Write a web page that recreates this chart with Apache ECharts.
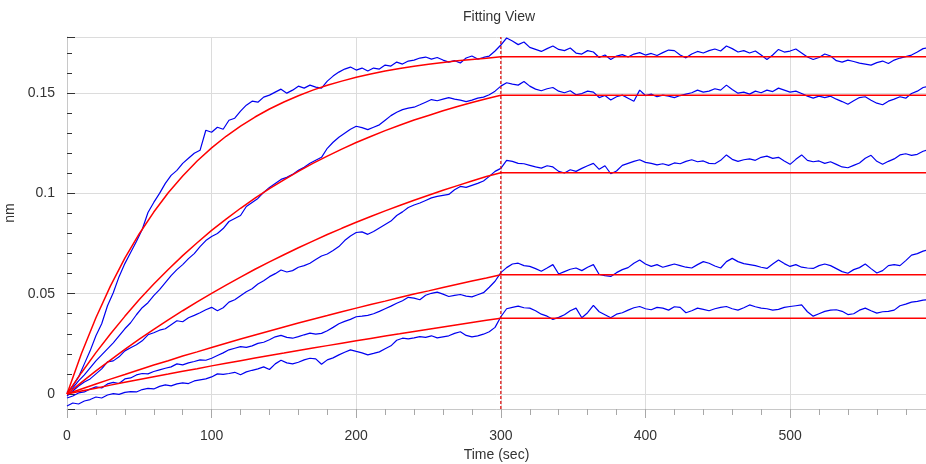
<!DOCTYPE html>
<html><head><meta charset="utf-8">
<script src="https://cdn.jsdelivr.net/npm/echarts@6/dist/echarts.min.js"></script>
<style>html,body{margin:0;padding:0;background:#fff}#c{width:926px;height:464px}</style>
</head><body><div id="c"></div>
<script>
// sampling times of the measured traces (sec)
const time = [
0,4,8,12,16,20,24,28,32,36,
40,44,48,52,56,60,64,68,72,76,
80,84,88,92,96,100,104,108,112,116,
120,124,128,132,136,140,144,148,152,156,
160,164,168,172,176,180,184,188,192,196,
200,204,208,212,216,220,224,228,232,236,
240,244,248,252,256,260,264,268,272,276,
280,284,288,292,296,300,304,308,312,316,
320,324,328,332,336,340,344,348,352,356,
360,364,368,372,376,380,384,388,392,396,
400,404,408,412,416,420,424,428,432,436,
440,444,448,452,456,460,464,468,472,476,
480,484,488,492,496,500,504,508,512,516,
520,524,528,532,536,540,544,548,552,556,
560,564,568,572,576,580,584,588,592,596];

// measured traces (nm)
const blue1 = [
0.0005,0.0040,0.0085,0.0150,0.0215,0.0290,0.0350,0.0440,0.0505,0.0585,
0.0650,0.0705,0.0760,0.0820,0.0905,0.0955,0.1000,0.1050,0.1090,0.1115,
0.1150,0.1175,0.1200,0.1215,0.1315,0.1305,0.1330,0.1320,0.1365,0.1375,
0.1410,0.1440,0.1460,0.1455,0.1480,0.1490,0.1505,0.1520,0.1500,0.1515,
0.1535,0.1525,0.1540,0.1530,0.1525,0.1560,0.1585,0.1605,0.1620,0.1630,
0.1615,0.1625,0.1610,0.1625,0.1620,0.1640,0.1635,0.1655,0.1645,0.1660,
0.1665,0.1675,0.1680,0.1670,0.1678,0.1665,0.1655,0.1662,0.1650,0.1675,
0.1685,0.1670,0.1678,0.1685,0.1710,0.1740,0.1775,0.1760,0.1742,0.1755,
0.1728,0.1718,0.1708,0.1722,0.1735,0.1718,0.1712,0.1725,0.1700,0.1695,
0.1712,0.1705,0.1678,0.1690,0.1668,0.1685,0.1692,0.1680,0.1695,0.1702,
0.1690,0.1698,0.1688,0.1702,0.1715,0.1712,0.1690,0.1676,0.1695,0.1708,
0.1700,0.1712,0.1720,0.1710,0.1735,0.1722,0.1705,0.1712,0.1700,0.1710,
0.1690,0.1668,0.1690,0.1718,0.1705,0.1710,0.1720,0.1700,0.1680,0.1668,
0.1678,0.1695,0.1685,0.1662,0.1655,0.1665,0.1658,0.1650,0.1645,0.1640,
0.1652,0.1660,0.1648,0.1665,0.1675,0.1682,0.1690,0.1705,0.1722,0.1728];
const blue2 = [
0.0010,0.0030,0.0065,0.0095,0.0130,0.0165,0.0195,0.0225,0.0255,0.0290,
0.0325,0.0355,0.0395,0.0430,0.0455,0.0490,0.0520,0.0555,0.0590,0.0620,
0.0645,0.0675,0.0700,0.0735,0.0765,0.0785,0.0800,0.0825,0.0860,0.0875,
0.0890,0.0935,0.0955,0.0975,0.1005,0.1030,0.1050,0.1070,0.1080,0.1095,
0.1115,0.1130,0.1150,0.1165,0.1180,0.1225,0.1255,0.1280,0.1300,0.1320,
0.1335,0.1328,0.1318,0.1330,0.1342,0.1365,0.1388,0.1405,0.1418,0.1425,
0.1430,0.1442,0.1455,0.1468,0.1462,0.1470,0.1478,0.1470,0.1465,0.1458,
0.1465,0.1475,0.1480,0.1492,0.1510,0.1535,0.1552,0.1545,0.1540,0.1558,
0.1535,0.1520,0.1512,0.1522,0.1528,0.1510,0.1502,0.1512,0.1492,0.1498,
0.1510,0.1505,0.1478,0.1488,0.1466,0.1482,0.1490,0.1475,0.1460,0.1515,
0.1488,0.1495,0.1482,0.1490,0.1485,0.1478,0.1488,0.1495,0.1502,0.1515,
0.1505,0.1510,0.1522,0.1515,0.1540,0.1518,0.1500,0.1505,0.1495,0.1510,
0.1502,0.1515,0.1508,0.1525,0.1515,0.1505,0.1510,0.1498,0.1485,0.1475,
0.1485,0.1478,0.1485,0.1470,0.1458,0.1445,0.1462,0.1478,0.1482,0.1465,
0.1450,0.1442,0.1460,0.1470,0.1482,0.1475,0.1498,0.1510,0.1528,0.1535];
const blue3 = [
-0.0010,0.0015,0.0040,0.0060,0.0075,0.0100,0.0125,0.0160,0.0165,0.0185,
0.0215,0.0230,0.0245,0.0265,0.0295,0.0305,0.0318,0.0325,0.0345,0.0365,
0.0360,0.0380,0.0392,0.0405,0.0420,0.0432,0.0415,0.0430,0.0458,0.0470,
0.0490,0.0510,0.0525,0.0548,0.0565,0.0585,0.0600,0.0618,0.0608,0.0615,
0.0632,0.0640,0.0652,0.0670,0.0688,0.0698,0.0715,0.0735,0.0765,0.0788,
0.0805,0.0808,0.0796,0.0810,0.0828,0.0845,0.0862,0.0890,0.0908,0.0930,
0.0942,0.0952,0.0965,0.0978,0.0985,0.0990,0.0995,0.1018,0.1035,0.1030,
0.1040,0.1050,0.1062,0.1085,0.1110,0.1125,0.1165,0.1160,0.1150,0.1148,
0.1140,0.1132,0.1126,0.1138,0.1132,0.1110,0.1102,0.1118,0.1110,0.1125,
0.1138,0.1150,0.1120,0.1138,0.1098,0.1112,0.1140,0.1150,0.1160,0.1168,
0.1155,0.1150,0.1142,0.1148,0.1140,0.1152,0.1148,0.1160,0.1168,0.1158,
0.1162,0.1150,0.1148,0.1165,0.1192,0.1170,0.1160,0.1168,0.1172,0.1165,
0.1180,0.1186,0.1175,0.1180,0.1162,0.1145,0.1170,0.1192,0.1165,0.1158,
0.1162,0.1150,0.1158,0.1145,0.1132,0.1128,0.1140,0.1152,0.1175,0.1190,
0.1160,0.1145,0.1160,0.1172,0.1192,0.1198,0.1190,0.1195,0.1210,0.1220];
const blue4 = [
-0.0020,-0.0010,0.0005,0.0010,0.0025,0.0035,0.0030,0.0050,0.0058,0.0052,
0.0075,0.0080,0.0095,0.0102,0.0100,0.0112,0.0120,0.0128,0.0135,0.0150,
0.0145,0.0155,0.0162,0.0170,0.0168,0.0178,0.0192,0.0205,0.0220,0.0228,
0.0236,0.0232,0.0240,0.0252,0.0258,0.0270,0.0285,0.0292,0.0282,0.0278,
0.0286,0.0295,0.0303,0.0298,0.0302,0.0315,0.0332,0.0350,0.0362,0.0372,
0.0385,0.0388,0.0392,0.0400,0.0412,0.0425,0.0438,0.0452,0.0465,0.0482,
0.0478,0.0470,0.0492,0.0502,0.0508,0.0498,0.0486,0.0492,0.0496,0.0488,
0.0484,0.0495,0.0505,0.0532,0.0562,0.0605,0.0630,0.0648,0.0652,0.0640,
0.0636,0.0625,0.0612,0.0628,0.0645,0.0598,0.0610,0.0622,0.0628,0.0615,
0.0632,0.0645,0.0596,0.0590,0.0586,0.0605,0.0620,0.0630,0.0652,0.0668,
0.0648,0.0636,0.0645,0.0632,0.0640,0.0648,0.0640,0.0632,0.0628,0.0645,
0.0660,0.0652,0.0638,0.0628,0.0660,0.0676,0.0660,0.0650,0.0645,0.0640,
0.0632,0.0626,0.0648,0.0668,0.0650,0.0636,0.0645,0.0632,0.0628,0.0626,
0.0640,0.0648,0.0640,0.0625,0.0610,0.0602,0.0620,0.0630,0.0648,0.0625,
0.0603,0.0615,0.0640,0.0645,0.0640,0.0665,0.0692,0.0700,0.0712,0.0720];
const blue5 = [
-0.0060,-0.0045,-0.0050,-0.0035,-0.0028,-0.0015,-0.0020,-0.0005,0.0002,-0.0002,
0.0008,0.0012,0.0010,0.0022,0.0028,0.0025,0.0038,0.0045,0.0040,0.0050,
0.0055,0.0052,0.0065,0.0070,0.0075,0.0085,0.0100,0.0098,0.0102,0.0108,
0.0096,0.0110,0.0118,0.0125,0.0135,0.0122,0.0150,0.0168,0.0155,0.0150,
0.0158,0.0170,0.0178,0.0175,0.0148,0.0170,0.0180,0.0195,0.0208,0.0220,
0.0212,0.0205,0.0195,0.0202,0.0210,0.0225,0.0240,0.0268,0.0278,0.0275,
0.0280,0.0286,0.0282,0.0290,0.0280,0.0285,0.0290,0.0302,0.0310,0.0292,
0.0285,0.0290,0.0298,0.0310,0.0332,0.0385,0.0425,0.0432,0.0438,0.0430,
0.0428,0.0415,0.0398,0.0388,0.0372,0.0382,0.0395,0.0415,0.0428,0.0380,
0.0405,0.0442,0.0410,0.0395,0.0380,0.0398,0.0405,0.0418,0.0430,0.0436,
0.0425,0.0420,0.0432,0.0428,0.0418,0.0435,0.0432,0.0405,0.0415,0.0428,
0.0422,0.0415,0.0425,0.0432,0.0436,0.0425,0.0418,0.0430,0.0444,0.0435,
0.0428,0.0425,0.0418,0.0422,0.0432,0.0436,0.0440,0.0444,0.0410,0.0388,
0.0400,0.0412,0.0418,0.0420,0.0412,0.0396,0.0400,0.0418,0.0428,0.0415,
0.0403,0.0410,0.0412,0.0418,0.0440,0.0448,0.0458,0.0462,0.0468,0.0470];

// fitted association curves (nm) at these times (sec)
const fitTime = [0,10,20,30,40,50,60,70,80,90,100,110,120,130,140,150,160,170,180,190,200,210,220,230,240,250,260,270,280,290,300];
const fit1 = [0,0.0202,0.0380,0.0538,0.0677,0.0799,0.0907,0.1003,0.1087,0.1162,0.1227,0.1285,0.1336,0.1381,0.1421,0.1456,0.1487,0.1515,0.1539,0.1560,0.1579,0.1595,0.1610,0.1623,0.1634,0.1644,0.1653,0.1661,0.1668,0.1674,0.1682];
const fit2 = [0,0.0106,0.0206,0.0299,0.0387,0.0471,0.0548,0.0621,0.0690,0.0754,0.0816,0.0872,0.0926,0.0976,0.1024,0.1068,0.1110,0.1150,0.1186,0.1221,0.1254,0.1284,0.1313,0.1340,0.1366,0.1389,0.1412,0.1433,0.1453,0.1472,0.1490];
const fit3 = [0,0.0058,0.0115,0.0169,0.0222,0.0273,0.0322,0.0369,0.0415,0.0459,0.0502,0.0543,0.0583,0.0622,0.0659,0.0694,0.0729,0.0762,0.0795,0.0826,0.0856,0.0885,0.0913,0.0940,0.0966,0.0991,0.1016,0.1039,0.1062,0.1084,0.1103];
const fit4 = [0,0.0025,0.0050,0.0074,0.0097,0.0121,0.0144,0.0166,0.0189,0.0210,0.0232,0.0253,0.0274,0.0294,0.0314,0.0334,0.0354,0.0373,0.0391,0.0410,0.0428,0.0446,0.0463,0.0481,0.0498,0.0514,0.0531,0.0547,0.0563,0.0578,0.0594];
const fit5 = [0,0.0015,0.0029,0.0044,0.0058,0.0072,0.0086,0.0099,0.0113,0.0126,0.0140,0.0153,0.0166,0.0179,0.0192,0.0204,0.0217,0.0229,0.0241,0.0253,0.0265,0.0277,0.0289,0.0300,0.0312,0.0323,0.0334,0.0345,0.0356,0.0367,0.0378];

const assocEnd = 300;   // start of dissociation (sec)
const timeMax = 594;    // right end of the x axis (sec)
const yMin = -0.0075;   // axis bounds (nm)
const yMax = 0.178;

const FONT = 'Liberation Sans, Arial, sans-serif';
const RED = '#ff0000';
const pair = (ts, vs) => ts.map((t, i) => [t, vs[i]]);
const series = [];
[blue1, blue2, blue3, blue4, blue5].forEach(b => series.push({
  type: 'line', data: pair(time, b), symbol: 'none', showSymbol: false,
  color: '#0000f0', lineStyle: { color: '#0000f0', width: 1.2 }, z: 2, silent: true
}));
[fit1, fit2, fit3, fit4, fit5].forEach(f => series.push({
  type: 'line', data: pair(fitTime, f).concat([[timeMax, f[f.length - 1]]]),
  symbol: 'none', showSymbol: false, color: RED,
  lineStyle: { color: RED, width: 1.5 }, z: 3, silent: true
}));
// dissociation start marker
series.push({
  type: 'line', data: [[assocEnd, yMin], [assocEnd, yMax]],
  symbol: 'none', showSymbol: false, color: '#e00000', silent: true, z: 4,
  lineStyle: { color: '#e00000', width: 1.2, type: [3, 2] }
});

const chart = echarts.init(document.getElementById('c'), null, { renderer: 'canvas' });
chart.setOption({
  animation: false,
  backgroundColor: '#fff',
  title: { text: 'Fitting View', left: 458, top: 5,
    textStyle: { fontSize: 14, fontWeight: 'normal', color: '#333', fontFamily: FONT } },
  grid: { left: 67, top: 37, right: 0, bottom: 55, containLabel: false, outerBoundsMode: 'none' },
  xAxis: {
    type: 'value', min: 0, max: timeMax, interval: 100,
    name: 'Time (sec)', nameLocation: 'middle', nameGap: 35,
    nameTextStyle: { fontSize: 14, color: '#333', fontFamily: FONT },
    axisLine: { show: true, onZero: false, lineStyle: { color: '#c8c8c8' } },
    axisTick: { show: true, inside: false, length: 9, lineStyle: { color: '#a8a8a8' } },
    minorTick: { show: true, splitNumber: 5, length: 6, lineStyle: { color: '#a8a8a8' } },
    splitLine: { show: true, lineStyle: { color: '#dcdcdc' } },
    axisLabel: { margin: 20, fontSize: 14, color: '#333', fontFamily: FONT, showMaxLabel: false }
  },
  yAxis: {
    type: 'value', min: yMin, max: yMax, splitNumber: 4, minInterval: 0.05, maxInterval: 0.05,
    name: 'nm', nameLocation: 'middle', nameGap: 44,
    nameTextStyle: { fontSize: 14, color: '#333', fontFamily: FONT, padding: [0, 0, 0, 20] },
    axisLine: { show: true, onZero: false, lineStyle: { color: '#c8c8c8' } },
    axisTick: { show: true, inside: true, length: 8, lineStyle: { color: '#333' } },
    minorTick: { show: true, splitNumber: 5, length: 5, lineStyle: { color: '#333' } },
    splitLine: { show: true, lineStyle: { color: '#dcdcdc' } },
    axisLabel: { margin: 12, fontSize: 14, color: '#333', fontFamily: FONT, showMinLabel: false, showMaxLabel: false }
  },
  series: series
});
</script></body></html>
